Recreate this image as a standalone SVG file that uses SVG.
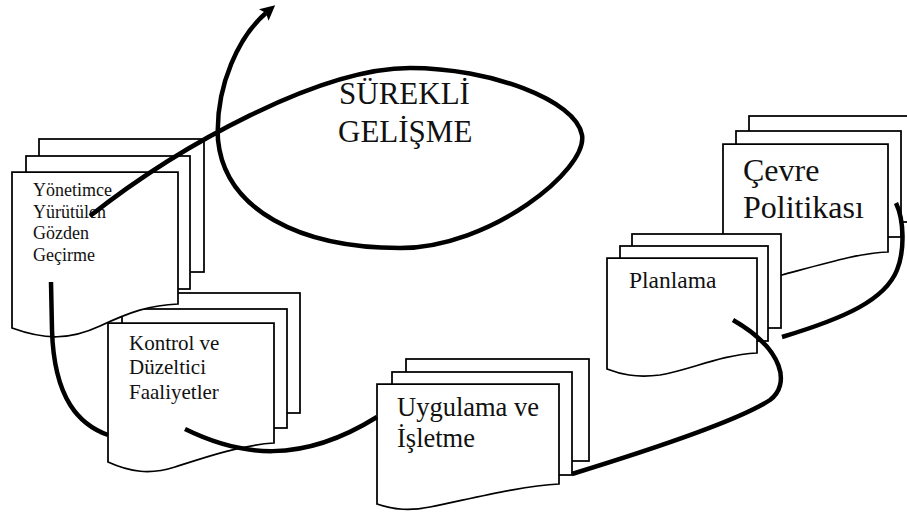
<svg xmlns="http://www.w3.org/2000/svg" width="907" height="513" viewBox="0 0 907 513">
<style>
.pg{fill:#fff;stroke:#000;stroke-width:1.75;stroke-linejoin:miter}
.conn{fill:none;stroke:#000;stroke-width:4.5;stroke-linecap:butt}
.lbl{font-family:'Liberation Serif','Times New Roman',serif;fill:#111}
</style>
<defs>
<marker id="arrow" viewBox="0 0 15 15" refX="3" refY="7.5" markerWidth="15" markerHeight="15" markerUnits="userSpaceOnUse" orient="auto">
<path d="M0,0 L15,7.5 L0,15 L3,7.5 z" fill="#000"/>
</marker>
</defs>
<rect width="907" height="513" fill="#fff"/>

<g id="node-cevre">
<rect class="pg" x="749" y="116" width="166" height="106"/>
<rect class="pg" x="736" y="131" width="165" height="106"/>
<path class="pg" d="M723,144 H888 V252 C 860,253 830,262 782,275 C 760,282 740,288 723,282 Z"/>
<text class="lbl" font-family="Liberation Serif" font-size="32"><tspan x="743" y="181">Çevre</tspan><tspan x="743" y="218">Politikası</tspan></text>
</g>

<g id="node-planlama">
<rect class="pg" x="632" y="234" width="149" height="94"/>
<rect class="pg" x="620" y="246" width="148" height="95"/>
<path class="pg" d="M607,258 H757 V353 C 720,355 690,370 660,375 C 635,378 620,374 607,369 Z"/>
<text class="lbl" font-family="Liberation Serif" font-size="23.5" x="629" y="288">Planlama</text>
</g>

<g id="node-uygulama">
<rect class="pg" x="406" y="359" width="183" height="102"/>
<rect class="pg" x="392" y="372" width="180" height="103"/>
<path class="pg" d="M377,384 H559 V484 C 520,486 470,499 430,507 C 410,511 395,510 377,504 Z"/>
<text class="lbl" font-family="Liberation Serif" font-size="26.5"><tspan x="397" y="416">Uygulama ve</tspan><tspan x="397" y="447">İşletme</tspan></text>
</g>

<g id="node-kontrol">
<rect class="pg" x="136" y="293" width="164" height="120"/>
<rect class="pg" x="122" y="309" width="165" height="119"/>
<path class="pg" d="M108,323 H274 V443 C 240,445 200,459 175,467 C 150,475 130,472 108,462 Z"/>
<text class="lbl" font-family="Liberation Serif" font-size="21"><tspan x="129" y="350">Kontrol ve</tspan><tspan x="129" y="374">Düzeltici</tspan><tspan x="129" y="399">Faaliyetler</tspan></text>
</g>

<g id="node-yonetim">
<rect class="pg" x="39" y="139" width="165" height="133"/>
<rect class="pg" x="26" y="156" width="164" height="133"/>
<path class="pg" d="M12,172 H178 V304 C 150,305 130,312 100,326 C 70,340 45,340 12,328 Z"/>
<text class="lbl" font-family="Liberation Serif" font-size="18"><tspan x="33" y="196">Yönetimce</tspan><tspan x="33" y="218">Yürütülen</tspan><tspan x="33" y="239">Gözden</tspan><tspan x="33" y="261">Geçirme</tspan></text>
</g>

<g id="connectors">
<path class="conn" marker-end="url(#arrow)" d="M90,216 C 180,145 320,68 410,68 C 490,68 576,100 582,135 C 588,170 490,248 400,248 C 300,248 225,210 218,140 C 215,85 240,35 266,13"/>
<path class="conn" d="M51,282 L52,330 C 54,400 80,425 108,435"/>
<path class="conn" d="M185,429 C 240,456 300,465 377,417"/>
<path class="conn" d="M572,474 C 650,450 740,420 770,400 C 790,385 785,350 733,320"/>
<path class="conn" d="M782,337 C 845,318 885,300 897,270 C 905,250 904,220 896,203"/>
</g>

<g id="label-surekli">
<text class="lbl" font-family="Liberation Serif" font-size="31"><tspan x="339" y="104">SÜREKLİ</tspan><tspan x="338" y="142">GELİŞME</tspan></text>
</g>
</svg>
